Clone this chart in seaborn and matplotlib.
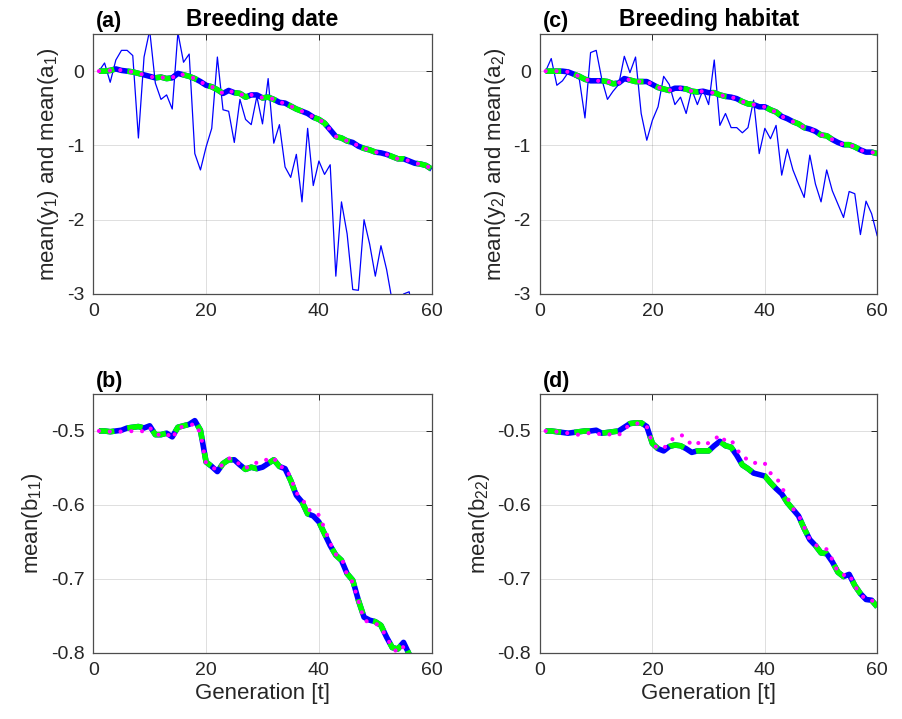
import numpy as np
import matplotlib.pyplot as plt
import seaborn as sns

generation = np.arange(1, 61)

# (a) breeding date: noisy mean(y1) and mean(a1) from three runs
y1_mean = [0.00, 0.11, -0.15, 0.15, 0.28, 0.28, 0.21, -0.90, 0.19, 0.55,
           -0.16, -0.38, -0.32, -0.51, 0.52, 0.12, 0.23, -1.11, -1.33, -1.02,
           -0.77, 0.19, -0.52, -0.54, -0.96, -0.38, -0.65, -0.72, -0.34, -0.71,
           -0.10, -0.97, -0.72, -1.29, -1.43, -1.12, -1.76, -0.77, -1.54, -1.21,
           -1.39, -1.26, -2.76, -1.76, -2.19, -2.94, -2.95, -2.00, -2.33, -2.76,
           -2.35, -2.67, -3.10, -3.30, -3.00, -2.97, -3.40, -3.60, -3.50, -3.70]
a1_mean = [0.00, 0.00, 0.01, 0.03, 0.01, 0.00, -0.01, -0.03, -0.05, -0.07,
           -0.09, -0.08, -0.10, -0.09, -0.03, -0.05, -0.07, -0.10, -0.14, -0.19,
           -0.21, -0.25, -0.30, -0.26, -0.29, -0.30, -0.35, -0.32, -0.32, -0.36,
           -0.35, -0.38, -0.42, -0.43, -0.47, -0.51, -0.54, -0.57, -0.62, -0.65,
           -0.70, -0.79, -0.88, -0.90, -0.94, -0.96, -1.01, -1.04, -1.06, -1.09,
           -1.10, -1.12, -1.15, -1.18, -1.18, -1.21, -1.24, -1.25, -1.27, -1.32]
a1_green = a1_mean
a1_magenta = a1_mean

# (c) breeding habitat
y2_mean = [0.00, 0.17, -0.19, -0.13, -0.02, -0.07, -0.11, -0.63, 0.25, 0.28,
           -0.11, -0.38, -0.27, -0.18, 0.20, -0.02, 0.19, -0.57, -0.93, -0.66,
           -0.48, -0.07, -0.18, -0.45, -0.35, -0.57, -0.25, -0.45, -0.25, -0.45,
           0.15, -0.73, -0.57, -0.76, -0.76, -0.83, -0.76, -0.39, -1.11, -0.77,
           -0.91, -0.73, -1.40, -1.05, -1.33, -1.52, -1.70, -1.13, -1.52, -1.76,
           -1.33, -1.61, -1.79, -1.97, -1.62, -1.65, -2.20, -1.75, -1.92, -2.22]
a2_mean = [0.00, 0.00, 0.00, 0.00, -0.01, -0.04, -0.07, -0.11, -0.13, -0.13,
           -0.13, -0.14, -0.17, -0.16, -0.10, -0.12, -0.14, -0.14, -0.14, -0.18,
           -0.22, -0.24, -0.26, -0.23, -0.23, -0.24, -0.27, -0.28, -0.27, -0.29,
           -0.29, -0.32, -0.34, -0.35, -0.37, -0.41, -0.44, -0.45, -0.48, -0.48,
           -0.52, -0.55, -0.61, -0.64, -0.68, -0.71, -0.76, -0.78, -0.81, -0.86,
           -0.87, -0.92, -0.96, -0.99, -0.99, -1.02, -1.06, -1.09, -1.09, -1.11]
a2_green = a2_mean
a2_magenta = a2_mean

# (b) mean(b11)
b11_mean = [-0.500, -0.500, -0.501, -0.500, -0.499, -0.496, -0.495, -0.494, -0.496, -0.493,
            -0.505, -0.505, -0.503, -0.508, -0.495, -0.493, -0.491, -0.486, -0.499, -0.542,
            -0.548, -0.555, -0.544, -0.539, -0.539, -0.546, -0.552, -0.549, -0.551, -0.549,
            -0.544, -0.539, -0.548, -0.551, -0.567, -0.587, -0.596, -0.612, -0.615, -0.623,
            -0.639, -0.655, -0.668, -0.675, -0.693, -0.702, -0.729, -0.752, -0.756, -0.758,
            -0.763, -0.779, -0.793, -0.795, -0.786, -0.802, -0.815, -0.830, -0.845, -0.860]
b11_green = b11_mean
b11_magenta = [-0.500, -0.500, -0.501, -0.500, -0.501, -0.501, -0.500, -0.499, -0.501, -0.495,
               -0.505, -0.505, -0.503, -0.511, -0.496, -0.494, -0.493, -0.490, -0.503, -0.544,
               -0.548, -0.554, -0.544, -0.537, -0.538, -0.546, -0.551, -0.544, -0.543, -0.543,
               -0.537, -0.536, -0.549, -0.549, -0.563, -0.584, -0.590, -0.607, -0.607, -0.614,
               -0.632, -0.652, -0.667, -0.671, -0.695, -0.705, -0.730, -0.756, -0.759, -0.760,
               -0.766, -0.779, -0.793, -0.800, -0.792, -0.806, -0.820, -0.835, -0.850, -0.865]

# (d) mean(b22)
b22_mean = [-0.500, -0.500, -0.501, -0.502, -0.503, -0.502, -0.501, -0.500, -0.500, -0.499,
            -0.503, -0.502, -0.501, -0.500, -0.495, -0.490, -0.489, -0.489, -0.494, -0.517,
            -0.524, -0.527, -0.521, -0.519, -0.520, -0.524, -0.529, -0.527, -0.527, -0.527,
            -0.520, -0.514, -0.520, -0.522, -0.533, -0.546, -0.551, -0.557, -0.559, -0.561,
            -0.570, -0.578, -0.585, -0.597, -0.606, -0.615, -0.632, -0.647, -0.655, -0.665,
            -0.666, -0.677, -0.691, -0.697, -0.694, -0.709, -0.720, -0.728, -0.729, -0.738]
b22_green = b22_mean
b22_magenta = [-0.500, -0.500, -0.501, -0.502, -0.503, -0.505, -0.505, -0.503, -0.503, -0.502,
               -0.506, -0.505, -0.504, -0.506, -0.496, -0.493, -0.490, -0.490, -0.494, -0.517,
               -0.524, -0.524, -0.514, -0.509, -0.505, -0.509, -0.520, -0.517, -0.513, -0.517,
               -0.512, -0.505, -0.514, -0.512, -0.524, -0.536, -0.538, -0.544, -0.541, -0.544,
               -0.557, -0.562, -0.576, -0.590, -0.605, -0.614, -0.630, -0.647, -0.654, -0.659,
               -0.660, -0.674, -0.691, -0.695, -0.693, -0.710, -0.720, -0.729, -0.729, -0.736]

sns.set_theme(style="white")
plt.rcParams["font.family"] = ["Liberation Sans", "DejaVu Sans"]
plt.rcParams["mathtext.fontset"] = "custom"
plt.rcParams["mathtext.rm"] = "Liberation Sans"
plt.rcParams["mathtext.it"] = "Liberation Sans:italic"
plt.rcParams["axes.unicode_minus"] = False

fig = plt.figure(figsize=(9.03, 7.19), dpi=100)
ax_a = fig.add_axes([0.1033, 0.5911, 0.3748, 0.3616])
ax_c = fig.add_axes([0.598, 0.5911, 0.3735, 0.3616])
ax_b = fig.add_axes([0.1033, 0.0922, 0.3748, 0.3598])
ax_d = fig.add_axes([0.598, 0.0922, 0.3735, 0.3598])

dark = "#262626"


def draw_means(ax, blue, green, magenta, noisy=None):
    if noisy is not None:
        sns.lineplot(x=generation, y=noisy, ax=ax, color="#0000ff", lw=0.9,
                     estimator=None)
    sns.lineplot(x=generation, y=blue, ax=ax, color="#0000ff", lw=4.0,
                 estimator=None, solid_capstyle="butt")
    sns.lineplot(x=generation, y=green, ax=ax, color="#00ff00", lw=4.0,
                 estimator=None, linestyle=(0, (2.8, 2.4)),
                 dash_capstyle="butt")
    sns.lineplot(x=generation, y=magenta, ax=ax, color="#ff00ff", lw=3.0,
                 estimator=None, linestyle=(0, (0.01, 2.6)),
                 dash_capstyle="round")


def style_axes(ax, yticks, ylim):
    ax.set_xlim(0, 60)
    ax.set_xticks([0, 20, 40, 60])
    ax.set_ylim(*ylim)
    ax.set_yticks(yticks)
    ax.grid(True, color=dark, alpha=0.15, lw=0.7)
    ax.tick_params(direction="in", top=True, right=True, length=4,
                   width=0.7, colors=dark, labelsize=14, pad=6.5)
    for s in ax.spines.values():
        s.set_color("#4d4d4d")
        s.set_linewidth(0.9)
    ax.set_xlabel("")
    ax.set_ylabel("")


draw_means(ax_a, a1_mean, a1_green, a1_magenta, y1_mean)
draw_means(ax_c, a2_mean, a2_green, a2_magenta, y2_mean)
draw_means(ax_b, b11_mean, b11_green, b11_magenta)
draw_means(ax_d, b22_mean, b22_green, b22_magenta)

style_axes(ax_a, [-3, -2, -1, 0], (-3, 0.5))
style_axes(ax_c, [-3, -2, -1, 0], (-3, 0.5))
style_axes(ax_b, [-0.8, -0.7, -0.6, -0.5], (-0.8, -0.45))
style_axes(ax_d, [-0.8, -0.7, -0.6, -0.5], (-0.8, -0.45))

ax_a.set_title("Breeding date", fontweight="bold", fontsize=16.5, pad=6, color="black")
ax_c.set_title("Breeding habitat", fontweight="bold", fontsize=16.5, pad=6, color="black")

for ax, lab in [(ax_a, "(a)"), (ax_b, "(b)"), (ax_c, "(c)"), (ax_d, "(d)")]:
    ax.text(0.008, 1.026, lab, transform=ax.transAxes, fontweight="bold",
            fontsize=15.5, va="baseline", ha="left", color="black")

ax_a.set_ylabel(r"mean(y$_1$) and mean(a$_1$)", fontsize=16, color=dark, labelpad=4)
ax_c.set_ylabel(r"mean(y$_2$) and mean(a$_2$)", fontsize=16, color=dark, labelpad=4)
ax_b.set_ylabel(r"mean(b$_{11}$)", fontsize=16, color=dark, labelpad=4)
ax_d.set_ylabel(r"mean(b$_{22}$)", fontsize=16, color=dark, labelpad=4)
ax_b.set_xlabel("Generation [t]", fontsize=16, color=dark, labelpad=3)
ax_d.set_xlabel("Generation [t]", fontsize=16, color=dark, labelpad=3)

fig.savefig("out.png", dpi=100)
